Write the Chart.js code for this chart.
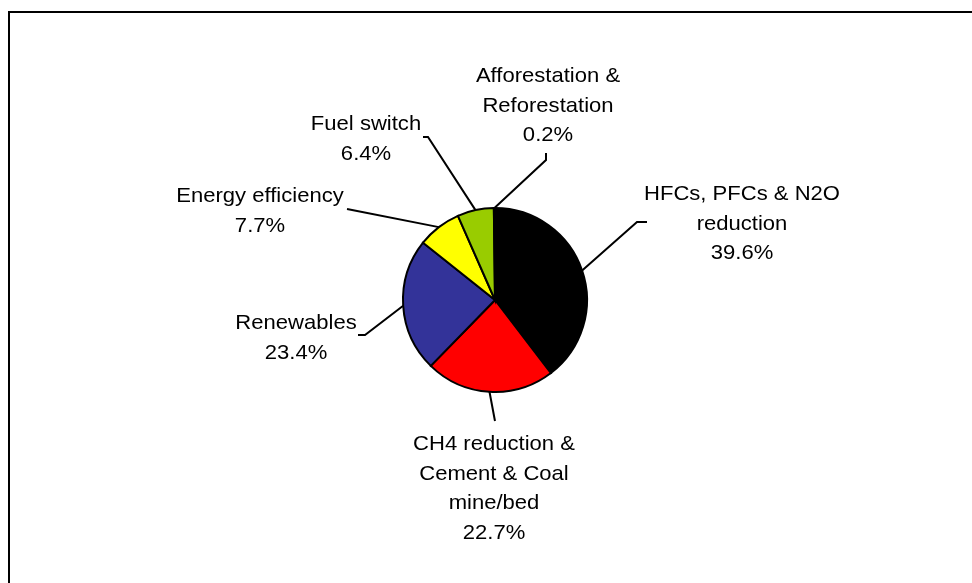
<!DOCTYPE html>
<html>
<head>
<meta charset="utf-8">
<script src="https://cdn.jsdelivr.net/npm/chart.js@4.4.1/dist/chart.umd.min.js"></script>
<style>
  html, body { margin: 0; padding: 0; background: #fff; overflow: hidden; }
  #wrap { position: relative; width: 972px; height: 583px; }
  #frame {
    position: absolute; left: 8px; top: 11px;
    width: 990px; height: 600px;
    border-left: 2px solid #000; border-top: 2px solid #000;
  }
  #pie { position: absolute; left: 0; top: 0; }
</style>
</head>
<body>
<div id="wrap">
  <div id="frame"></div>
  <canvas id="pie" width="972" height="583"></canvas>
</div>
<script>
// slice categories (clockwise from 12 o'clock), wrapped as in the picture
const categories = [
  ["HFCs, PFCs & N2O", "reduction"],
  ["CH4 reduction &", "Cement & Coal", "mine/bed"],
  ["Renewables"],
  ["Energy efficiency"],
  ["Fuel switch"],
  ["Afforestation &", "Reforestation"]
];
const shares = [39.6, 22.7, 23.4, 7.7, 6.4, 0.2];
const sliceColors = ["#000000", "#FF0000", "#333399", "#FFFF00", "#99CC00", "#FF8080"];

// where each label sits, relative to the pie centre
// path = leader line bend points after the slice edge, text = centre x + first baseline
const labelLayout = [
  { path: [[142, -78], [152, -78]], text: [247, -100] },
  { path: [[0, 121]], text: [-1, 150] },
  { path: [[-130, 35], [-137, 35]], text: [-199, 29] },
  { path: [[-148, -91]], text: [-235, -98] },
  { path: [[-67, -163], [-72, -163]], text: [-129, -170] },
  { path: [[51, -140], [51, -147]], text: [53, -218] }
];
const lineHeight = 29.7;

const leaderLabels = {
  id: "leaderLabels",
  afterDatasetsDraw(chart) {
    const ctx = chart.ctx;
    const arcs = chart.getDatasetMeta(0).data;
    ctx.save();
    ctx.strokeStyle = "#000";
    ctx.lineWidth = 2;
    ctx.fillStyle = "#000";
    ctx.font = "21px 'Liberation Sans', Arial, sans-serif";
    ctx.textAlign = "center";
    ctx.textBaseline = "alphabetic";
    arcs.forEach((arc, i) => {
      const p = arc.getProps(["x", "y", "startAngle", "endAngle", "outerRadius"], true);
      const mid = (p.startAngle + p.endAngle) / 2;
      const lay = labelLayout[i];
      ctx.beginPath();
      ctx.moveTo(p.x + Math.cos(mid) * p.outerRadius, p.y + Math.sin(mid) * p.outerRadius);
      lay.path.forEach(([dx, dy]) => ctx.lineTo(p.x + dx, p.y + dy));
      ctx.stroke();
      const lines = categories[i].concat([shares[i].toFixed(1) + "%"]);
      lines.forEach((t, k) => {
        // the original text is a bit stretched sideways
        ctx.save();
        ctx.translate(p.x + lay.text[0], p.y + lay.text[1] + k * lineHeight);
        ctx.scale(1.05, 1);
        ctx.fillText(t, 0, 0);
        ctx.restore();
      });
    });
    ctx.restore();
  }
};

new Chart(document.getElementById("pie"), {
  type: "pie",
  data: {
    labels: categories.map((c) => c.join(" ")),
    datasets: [
      {
        data: shares,
        backgroundColor: sliceColors,
        borderColor: "#000",
        borderWidth: 2,
        borderJoinStyle: "miter"
      }
    ]
  },
  options: {
    responsive: false,
    animation: false,
    layout: { padding: { left: 402, right: 384, top: 207, bottom: 190 } },
    plugins: {
      legend: { display: false },
      tooltip: { enabled: false }
    }
  },
  plugins: [leaderLabels]
});
</script>
</body>
</html>
